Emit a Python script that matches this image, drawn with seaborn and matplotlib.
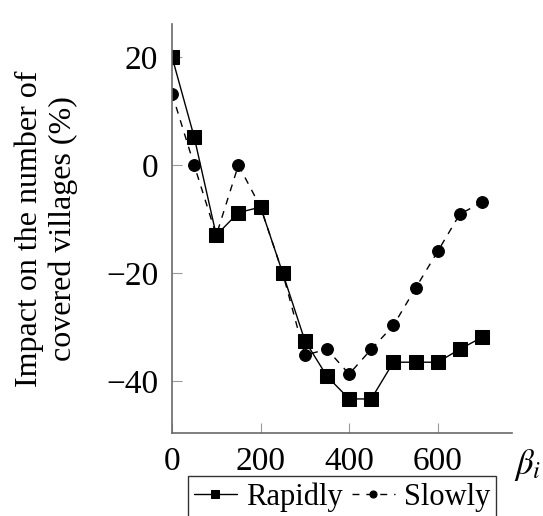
import matplotlib
matplotlib.use("Agg")
import matplotlib.pyplot as plt
import seaborn as sns
import pandas as pd

beta = [0, 50, 100, 150, 200, 250, 300, 350, 400, 450, 500, 550, 600, 650, 700]
rapidly = [20, 5.2, -13, -8.8, -7.8, -20, -32.5, -39.1, -43.3, -43.3, -36.5, -36.5, -36.5, -34.1, -31.9]
slowly = [13.2, 0, -13, 0, -7.8, -20, -35.2, -34.1, -38.7, -34.1, -29.7, -22.8, -16.0, -9.1, -6.9]
series_names = ["Rapidly", "Slowly"]
x_ticks = [0, 200, 400, 600]
y_ticks = [-40, -20, 0, 20]

sns.set_style("white")
plt.rcParams["font.family"] = ["Liberation Serif", "DejaVu Serif"]
plt.rcParams["mathtext.fontset"] = "stix"
plt.rcParams["axes.unicode_minus"] = True
plt.rcParams["text.color"] = "black"
plt.rcParams["axes.labelcolor"] = "black"

df = pd.DataFrame({
    "beta": beta * 2,
    "value": rapidly + slowly,
    "series": [series_names[0]] * len(beta) + [series_names[1]] * len(beta),
})

fig = plt.figure(figsize=(5.43, 5.16), dpi=100)
ax = fig.add_axes([0.3168, 0.1609, 0.6262, 0.7926])

sns.lineplot(data=df[df.series == "Rapidly"], x="beta", y="value", ax=ax,
             color="black", marker="s", markersize=9.5, linewidth=1.0,
             markeredgecolor="black", label="Rapidly", linestyle="-")
sns.lineplot(data=df[df.series == "Slowly"], x="beta", y="value", ax=ax,
             color="black", marker="o", markersize=8.5, linewidth=1.0,
             markeredgecolor="black", label="Slowly", linestyle=(0, (5, 5)))

ax.set_xlim(0, 768)
ax.set_ylim(-49.6, 26.1)
ax.set_xticks(x_ticks)
ax.set_yticks(y_ticks)
for s in ["top", "right"]:
    ax.spines[s].set_visible(False)
for s in ["left", "bottom"]:
    ax.spines[s].set_color("#6a6a6a")
    ax.spines[s].set_linewidth(1.2)
ax.tick_params(axis="both", direction="in", length=7, width=0.8,
               color="#9a9a9a", labelcolor="black", labelsize=24, pad=10)
ax.tick_params(axis="x", bottom=True)
ax.tick_params(axis="y", left=True)
ax.set_xlabel("")
ax.set_ylabel("Impact on the number of\ncovered villages (%)", fontsize=23,
              linespacing=1.2, labelpad=20, color="black")
ax.text(1.047, -0.078, r"$\beta_i$", transform=ax.transAxes, fontsize=25,
        ha="center", va="center", color="black")

leg = ax.legend(loc="upper center", bbox_to_anchor=(0.5, -0.068), ncol=2,
                fontsize=22, frameon=True, fancybox=False, handlelength=1.4,
                handletextpad=0.3, columnspacing=0.3, borderpad=0.2,
                markerscale=0.6)
leg.get_frame().set_edgecolor("black")
leg.get_frame().set_linewidth(1.0)
for t in leg.get_texts():
    t.set_color("black")

fig.savefig("out.png", dpi=100)
